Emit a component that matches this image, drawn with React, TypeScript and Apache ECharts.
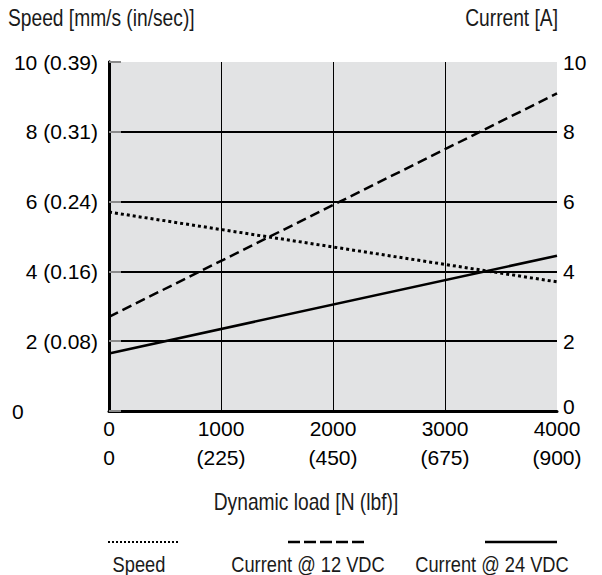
import React, { useEffect, useRef } from "react";
import * as echarts from "echarts";

// Data
const loadTicks = [0, 1000, 2000, 3000, 4000];
const lbfLabels = ["0", "(225)", "(450)", "(675)", "(900)"];
const speedTicks = [0, 2, 4, 6, 8, 10];
const speedLabels = ["0", "2 (0.08)", "4 (0.16)", "6 (0.24)", "8 (0.31)", "10 (0.39)"];
const loadN = [0, 4000];
const speed = [5.7, 3.7];
const current12 = [2.7, 9.1];
const current24 = [1.65, 4.45];
const legendNames = ["Speed", "Current @ 12 VDC", "Current @ 24 VDC"];
const titles = ["Speed [mm/s (in/sec)]", "Current [A]", "Dynamic load [N (lbf)]"];

const SANS = "Liberation Sans, Arial, sans-serif";

export default function App() {
  const ref = useRef<HTMLDivElement>(null);
  useEffect(() => {
    document.body.style.margin = "0";
    if (!ref.current) return;
    const chart = echarts.init(ref.current, null, { renderer: "svg" });
    const pairs = (ys: number[]) => loadN.map((x, i) => [x, ys[i]]);
    const narrowText = (text: string, x: number, y: number, align: string, size: number, scale: number) => ({
      type: "text",
      x,
      y,
      scaleX: scale,
      style: { text, align, verticalAlign: "middle", fontFamily: SANS, fontSize: size, fill: "#1a1a1a" },
    });
    const option: any = {
      animation: false,
      backgroundColor: "#ffffff",
      grid: { left: 109, right: 45, top: 62, bottom: 164, show: true, backgroundColor: "#e2e3e4", borderWidth: 0 },
      xAxis: [
        {
          type: "value",
          min: 0,
          max: 4000,
          interval: 1000,
          axisLine: { show: true, onZero: false, lineStyle: { color: "#000", width: 3 } },
          axisTick: { show: false },
          splitLine: { show: true, showMinLine: false, showMaxLine: false, lineStyle: { color: "#000", width: 1 } },
          axisLabel: {
            margin: 3,
            fontFamily: SANS,
            fontSize: 21,
            color: "#000",
            lineHeight: 29,
            formatter: (v: number) => {
              const i = loadTicks.indexOf(v);
              return `${v}\n${lbfLabels[i]}`;
            },
          },
        },
        {
          type: "value",
          position: "top",
          min: 0,
          max: 4000,
          axisLine: { show: true, lineStyle: { color: "#000", width: 1 } },
          axisTick: { show: false },
          axisLabel: { show: false },
          splitLine: { show: false },
        },
      ],
      yAxis: [
        {
          type: "value",
          min: 0,
          max: 10,
          interval: 2,
          axisLine: { show: true, lineStyle: { color: "#000", width: 3 } },
          axisTick: { show: true, inside: true, length: 12, lineStyle: { color: "#8a8a8a", width: 2 } },
          splitLine: { show: true, showMinLine: false, showMaxLine: false, lineStyle: { color: "#000", width: 2 } },
          axisLabel: {
            margin: 11,
            align: "right",
            fontFamily: SANS,
            fontSize: 21,
            color: "#000",
            formatter: (v: number) => {
              const i = speedTicks.indexOf(v);
              return v === 0 ? "{z|0}" : speedLabels[i];
            },
            rich: { z: { width: 86, align: "left", fontFamily: SANS, fontSize: 21, color: "#000" } },
          },
        },
        {
          type: "value",
          min: 0,
          max: 10,
          interval: 2,
          position: "right",
          axisLine: { show: true, lineStyle: { color: "#000", width: 3 } },
          axisTick: { show: false },
          splitLine: { show: false },
          axisLabel: {
            margin: 6,
            fontFamily: SANS,
            fontSize: 21,
            color: "#000",
            formatter: (v: number) => (v === 0 ? "{z|0}" : String(v)),
            rich: { z: { fontFamily: SANS, fontSize: 21, color: "#000", lineHeight: 12, verticalAlign: "bottom" } },
          },
        },
      ],
      series: [
        {
          name: legendNames[0],
          type: "line",
          yAxisIndex: 0,
          data: pairs(speed),
          showSymbol: false,
          lineStyle: { color: "#000", width: 3, type: [3, 3] },
        },
        {
          name: legendNames[1],
          type: "line",
          yAxisIndex: 1,
          data: pairs(current12),
          showSymbol: false,
          lineStyle: { color: "#000", width: 2.5, type: [10, 5] },
        },
        {
          name: legendNames[2],
          type: "line",
          yAxisIndex: 1,
          data: pairs(current24),
          showSymbol: false,
          lineStyle: { color: "#000", width: 2.5, type: "solid" },
        },
      ],
      graphic: [
        narrowText(titles[0], 8, 18, "left", 24, 0.8),
        narrowText(titles[1], 558, 18, "right", 24, 0.8),
        narrowText(titles[2], 306, 502, "center", 24, 0.8),
        { type: "line", shape: { x1: 108, y1: 542, x2: 180, y2: 542 }, style: { stroke: "#000", lineWidth: 2, lineDash: [2, 2] } },
        { type: "line", shape: { x1: 288, y1: 542, x2: 367, y2: 542 }, style: { stroke: "#000", lineWidth: 2.5, lineDash: [12, 4] } },
        { type: "line", shape: { x1: 485, y1: 542, x2: 557, y2: 542 }, style: { stroke: "#000", lineWidth: 2.5 } },
        narrowText(legendNames[0], 139, 564, "center", 22, 0.83),
        narrowText(legendNames[1], 308, 564, "center", 22, 0.83),
        narrowText(legendNames[2], 492, 564, "center", 22, 0.83),
      ],
    };
    chart.setOption(option);
    return () => chart.dispose();
  }, []);
  return <div ref={ref} style={{ width: 602, height: 575 }} />;
}
